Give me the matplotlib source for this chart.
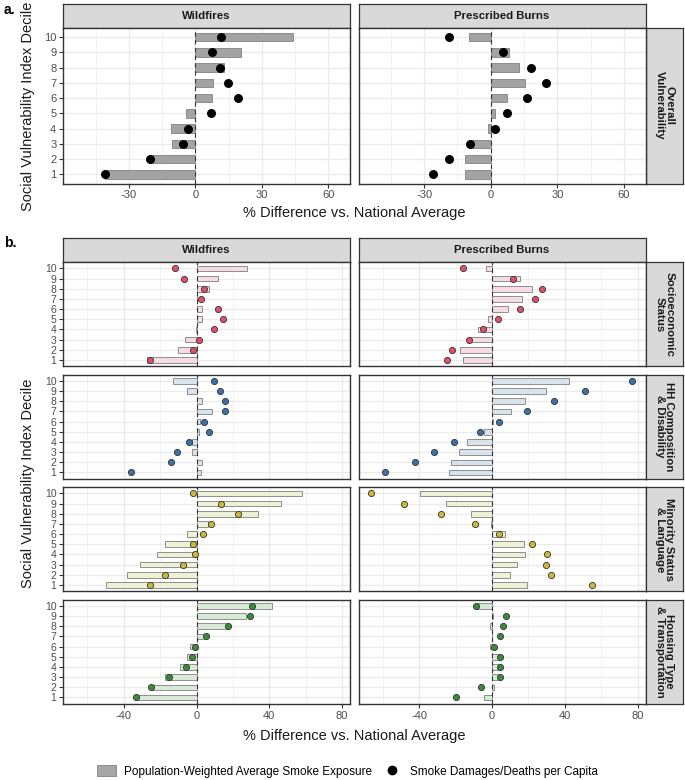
import matplotlib
matplotlib.use("Agg")
import matplotlib.pyplot as plt
from matplotlib.patches import Rectangle
from matplotlib.lines import Line2D
import numpy as np

plt.rcParams['font.family'] = ['Liberation Sans', 'DejaVu Sans']

deciles = list(range(1, 11))
columns = ["Wildfires", "Prescribed Burns"]

# ---- Panel a: Overall vulnerability ----
overall_wf_bar = [-40.6, -21.1, -10.6, -11.2, -4.2, 7.7, 8.0, 13.0, 20.4, 44.2]
overall_wf_dot = [-40.6, -20.5, -5.6, -3.2, 6.9, 19.1, 14.8, 11.3, 7.4, 11.8]
overall_pb_bar = [-11.4, -11.7, -9.8, -1.2, 2.0, 7.5, 15.6, 12.9, 8.0, -9.9]
overall_pb_dot = [-26.2, -18.6, -9.5, 1.8, 7.5, 16.5, 25.0, 17.9, 5.7, -18.9]

# ---- Panel b: themes ----
themes = ["Socioeconomic\nStatus", "HH Composition\n& Disability",
          "Minority Status\n& Language", "Housing Type\n& Transportation"]
theme_colors = ["#E0506B", "#3D6FA8", "#C9B93C", "#3A8C3A"]
theme_pale = ["#F5DCE2", "#D8E3EE", "#EDF1D6", "#D6EAD6"]

socio_wf_bar = [-27.0, -10.3, -6.2, -0.3, 2.8, 3.1, 0.3, 6.6, 11.6, 27.5]
socio_wf_dot = [-25.3, -1.7, 1.5, 9.7, 14.7, 11.6, 2.4, 3.9, -6.8, -11.9]
socio_pb_bar = [-15.9, -17.5, -11.7, -7.5, -2.2, 8.9, 16.6, 21.9, 15.3, -3.3]
socio_pb_dot = [-24.5, -21.7, -12.8, -5.1, 3.1, 15.2, 23.4, 27.2, 11.7, -15.7]

hh_wf_bar = [2.2, 3.1, -2.4, -2.6, 1.5, 2.0, 8.6, 2.8, -5.0, -13.0]
hh_wf_dot = [-35.8, -14.1, -10.6, -4.0, 7.0, 4.2, 15.6, 15.6, 12.8, 9.7]
hh_pb_bar = [-23.6, -22.3, -18.1, -13.7, -4.4, 0.5, 10.6, 18.3, 29.4, 42.4]
hh_pb_dot = [-58.4, -42.4, -31.8, -20.8, -6.4, 3.7, 19.0, 33.8, 51.0, 76.9]

min_wf_bar = [-49.7, -38.0, -31.0, -21.5, -17.6, -5.0, 6.1, 33.6, 46.2, 58.2]
min_wf_dot = [-25.7, -17.6, -7.7, -0.6, -2.0, 3.7, 7.9, 22.8, 13.2, -2.2]
min_pb_bar = [19.4, 9.9, 13.9, 18.3, 17.4, 7.1, -0.7, -11.5, -25.2, -39.5]
min_pb_dot = [54.6, 32.5, 29.4, 30.3, 21.7, 3.7, -9.3, -27.9, -48.4, -66.1]

hous_wf_bar = [-33.2, -25.1, -17.1, -9.0, -5.5, -3.5, 4.0, 17.1, 27.0, 41.3]
hous_wf_dot = [-33.2, -25.1, -15.4, -5.7, -2.6, -0.7, 5.0, 17.1, 29.5, 30.5]
hous_pb_bar = [-4.6, 1.1, 3.5, 3.5, 3.3, -1.1, 0.2, -0.9, 0.5, -9.0]
hous_pb_dot = [-19.9, -5.8, 4.4, 4.4, 4.6, 0.9, 4.4, 6.2, 7.5, -9.0]

theme_data = [
    (socio_wf_bar, socio_wf_dot, socio_pb_bar, socio_pb_dot),
    (hh_wf_bar, hh_wf_dot, hh_pb_bar, hh_pb_dot),
    (min_wf_bar, min_wf_dot, min_pb_bar, min_pb_dot),
    (hous_wf_bar, hous_wf_dot, hous_pb_bar, hous_pb_dot),
]

a_ticks = [-30, 0, 30, 60]
b_ticks = [-40, 0, 40, 80]
a_xlim = (-59.6, 69.8)
b_xlim = (-73.2, 84.3)

W, H = 685, 780
fig = plt.figure(figsize=(W / 100, H / 100), dpi=100)

def ax_px(x0, y0, x1, y1):
    return fig.add_axes([x0 / W, 1 - y1 / H, (x1 - x0) / W, (y1 - y0) / H])

STRIP_FC = "#D9D9D9"
BORDER = "#333333"
GRID = "#EBEBEB"
TICKC = "#4D4D4D"

def strip(x0, y0, x1, y1, text, rot=0, size=8.2):
    ax = ax_px(x0, y0, x1, y1)
    ax.set_xticks([]); ax.set_yticks([])
    ax.set_facecolor(STRIP_FC)
    for s in ax.spines.values():
        s.set_color(BORDER); s.set_linewidth(0.9)
    ax.text(0.5, 0.5, text, ha="center", va="center", rotation=rot,
            fontsize=size, fontweight="bold", color="#1A1A1A",
            transform=ax.transAxes, linespacing=0.95)
    return ax

def panel(x0, y0, x1, y1, xlim, ticks, bars, dots, bar_fc, bar_ec, dot_c, dot_ec,
          dot_s, bar_h, show_y, show_x, ytick_size, xtick_size):
    ax = ax_px(x0, y0, x1, y1)
    ax.set_xlim(*xlim)
    ax.set_ylim(0.4, 10.6)
    step = ticks[1] - ticks[0]
    minors = [ticks[0] - step / 2] + [t + step / 2 for t in ticks]
    for m in minors:
        ax.axvline(m, color=GRID, lw=0.5, zorder=0)
    for t in ticks:
        ax.axvline(t, color=GRID, lw=1.0, zorder=0)
    for d in deciles:
        ax.axhline(d, color=GRID, lw=1.0, zorder=0)
    ax.barh(deciles, bars, height=bar_h, color=bar_fc, edgecolor=bar_ec,
            linewidth=0.7, zorder=2)
    ax.axvline(0, color="#333333", lw=0.8, ls=(0, (4, 3)), zorder=3)
    ax.scatter(dots, deciles, s=dot_s, color=dot_c, edgecolors=dot_ec,
               linewidths=0.6, zorder=4)
    ax.set_xticks(ticks)
    ax.set_yticks(deciles)
    ax.tick_params(axis="both", length=3, width=0.8, color="#333333", colors=TICKC, pad=2)
    ax.tick_params(axis="y", labelsize=ytick_size)
    ax.tick_params(axis="x", labelsize=xtick_size)
    if not show_y:
        ax.tick_params(axis="y", left=False, labelleft=False)
    if not show_x:
        ax.tick_params(axis="x", bottom=False, labelbottom=False)
    ax.set_xticklabels([str(t) for t in ticks])
    for s in ax.spines.values():
        s.set_color(BORDER); s.set_linewidth(1.0)
    return ax

# ---------------- Panel a ----------------
LX0, LX1 = 63.3, 350.0
RX0, RX1 = 358.5, 645.7
SX1 = 683.0

strip(LX0, 4, LX1, 28, columns[0])
strip(RX0, 4, RX1, 28, columns[1])
strip(RX1, 28, SX1, 183.5, "Overall\nVulnerability", rot=270)

panel(LX0, 28, LX1, 183.5, a_xlim, a_ticks, overall_wf_bar, overall_wf_dot,
      "#A3A3A3", "#8C8C8C", "black", "black", 34, 0.55, True, True, 8, 8)
panel(RX0, 28, RX1, 183.5, a_xlim, a_ticks, overall_pb_bar, overall_pb_dot,
      "#A3A3A3", "#8C8C8C", "black", "black", 34, 0.55, False, True, 8, 8)

fig.text(354.5 / W, 1 - 213 / H, "% Difference vs. National Average",
         ha="center", va="center", fontsize=10.5, color="#1A1A1A")
fig.text(28 / W, 1 - 106 / H, "Social Vulnerability Index Decile",
         ha="center", va="center", rotation=90, fontsize=10.5, color="#1A1A1A")
fig.text(4 / W, 1 - 10 / H, "a.", ha="left", va="center", fontsize=10,
         fontweight="bold")

# ---------------- Panel b ----------------
strip(LX0, 238.3, LX1, 262.3, columns[0])
strip(RX0, 238.3, RX1, 262.3, columns[1])

tops = [262.3, 374.8, 487.3, 599.8]
ph = 103.8
for i, (top, data) in enumerate(zip(tops, theme_data)):
    wfb, wfd, pbb, pbd = data
    last = i == len(tops) - 1
    panel(LX0, top, LX1, top + ph, b_xlim, b_ticks, wfb, wfd,
          theme_pale[i], "#8F8F8F", theme_colors[i], "#333333", 20, 0.55,
          True, last, 7.5, 8)
    panel(RX0, top, RX1, top + ph, b_xlim, b_ticks, pbb, pbd,
          theme_pale[i], "#8F8F8F", theme_colors[i], "#333333", 20, 0.55,
          False, last, 7.5, 8)
    strip(RX1, top, SX1, top + ph, themes[i], rot=270)

fig.text(354.5 / W, 1 - 735.7 / H, "% Difference vs. National Average",
         ha="center", va="center", fontsize=10.5, color="#1A1A1A")
fig.text(28 / W, 1 - 483 / H, "Social Vulnerability Index Decile",
         ha="center", va="center", rotation=90, fontsize=10.5, color="#1A1A1A")
fig.text(4 / W, 1 - 243 / H, "b.", ha="left", va="center", fontsize=10,
         fontweight="bold")

# ---------------- Legend ----------------
handles = [
    Rectangle((0, 0), 1, 1, facecolor="#A6A6A6", edgecolor="#8C8C8C", linewidth=0.7),
    Line2D([], [], marker="o", color="black", linestyle="none", markersize=6),
]
labels = ["Population-Weighted Average Smoke Exposure",
          "Smoke Damages/Deaths per Capita"]
fig.legend(handles, labels, loc="center", bbox_to_anchor=(347.5 / W, 1 - 771.5 / H),
           ncol=2, frameon=False, fontsize=8.5, handlelength=1.6, handleheight=1.0,
           columnspacing=0.9, handletextpad=0.7)

fig.savefig("out.png", dpi=100)
